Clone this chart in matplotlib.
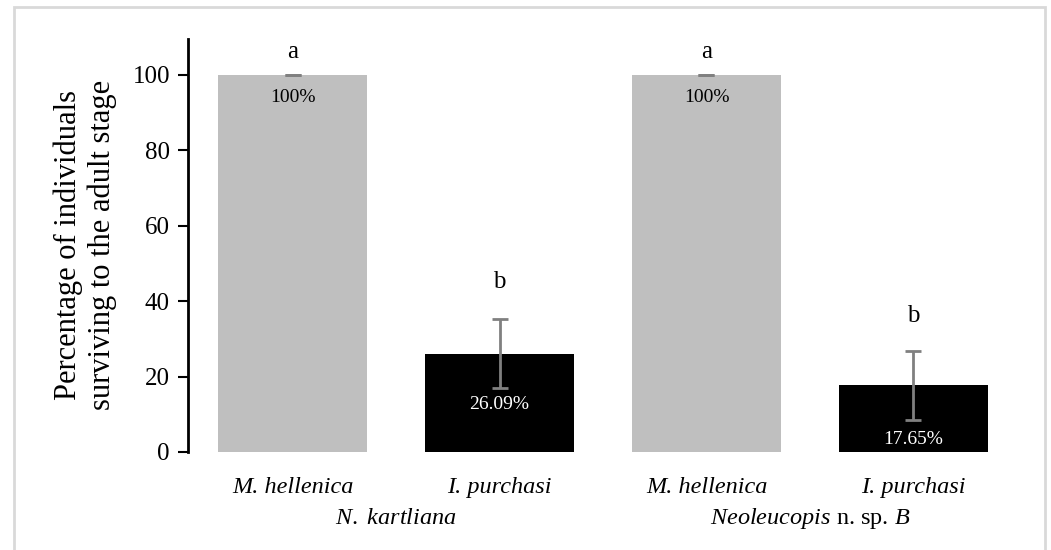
import matplotlib.pyplot as plt
from matplotlib.patches import Rectangle

# data
hosts = ["M. hellenica", "I. purchasi", "M. hellenica", "I. purchasi"]
groups = ["$\\it{N.\\ kartliana}$", "$\\it{Neoleucopis}$ n. sp. $\\it{B}$"]
values = [100, 26.09, 100, 17.65]
errors = [0, 9.1, 0, 9.1]
letters = ["a", "b", "a", "b"]
letter_y = [106, 45, 106, 36]
value_labels = ["100%", "26.09%", "100%", "17.65%"]
label_y = [94, 12.5, 94, 3.2]
bar_colors = ["#bfbfbf", "#000000", "#bfbfbf", "#000000"]
label_colors = ["black", "white", "black", "white"]

plt.rcParams['font.family'] = ['Liberation Serif', 'DejaVu Serif']
plt.rcParams['mathtext.fontset'] = 'custom'
plt.rcParams['mathtext.rm'] = 'Liberation Serif'
plt.rcParams['mathtext.it'] = 'Liberation Serif:italic'

fig = plt.figure(figsize=(10.51, 5.5), dpi=100)
ax = fig.add_axes([188 / 1051, (550 - 452) / 550, (1018 - 188) / 1051, (452 - 39) / 550])

x = list(range(len(values)))
ax.bar(x, values, width=0.72, color=bar_colors, zorder=1)
ax.errorbar(x, values, yerr=errors, fmt='none', ecolor='#808080',
            elinewidth=2, capsize=6, capthick=2, zorder=2)

for i in x:
    ax.text(i, letter_y[i], letters[i], ha='center', va='center', fontsize=18)
    ax.text(i, label_y[i], value_labels[i], ha='center', va='center',
            fontsize=14, color=label_colors[i], zorder=3)

ax.set_xlim(-0.505, 3.505)
ax.set_ylim(0, 109.5)
ax.set_yticks([0, 20, 40, 60, 80, 100])
ax.tick_params(axis='y', direction='out', length=7, width=1.5, labelsize=18, pad=6)
ax.set_xticks(x)
ax.set_xticklabels(hosts, fontstyle='italic', fontsize=17.5)
ax.tick_params(axis='x', length=0, pad=18)

for s in ['top', 'right', 'bottom']:
    ax.spines[s].set_visible(False)
ax.spines['left'].set_linewidth(2)

# group labels under the categories
for gx, g in zip([0.5, 2.5], groups):
    ax.text(gx, -0.16, g, transform=ax.get_xaxis_transform(),
            ha='center', va='center', fontsize=17.5)

fig.text(85 / 1051, 1 - 245 / 550,
         "Percentage of individuals\nsurviving to the adult stage",
         rotation=90, ha='center', va='center', fontsize=22, linespacing=1.2)

fig.patches.append(Rectangle((14 / 1051, -0.05), (1045 - 14) / 1051, 1.05 - 7 / 550,
                             transform=fig.transFigure, fill=False,
                             edgecolor='#d9d9d9', linewidth=2))

fig.savefig("out.png", dpi=100)
